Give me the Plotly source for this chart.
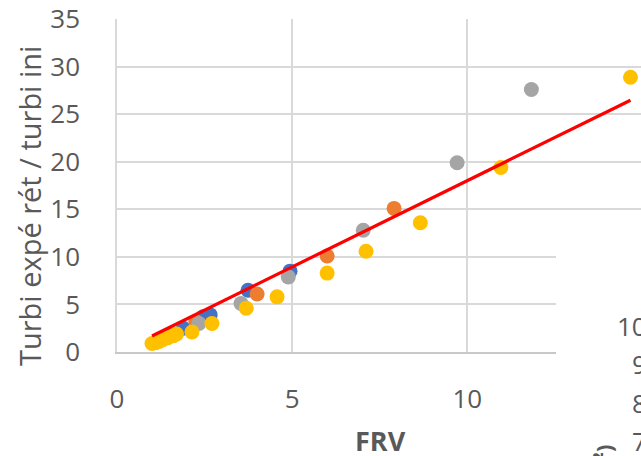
import plotly.graph_objects as go

W, H = 641, 456

# FRV (x) vs ratio of measured / initial turbidity (y), four sample series
blue_x = [1.2, 1.5, 1.89, 2.46, 2.66, 3.74, 4.94]
blue_y = [1.3, 1.8, 2.5, 3.7, 3.9, 6.5, 8.5]

orange_x = [2.25, 4.0, 6.0, 7.91]
orange_y = [3.2, 6.1, 10.1, 15.1]

gray_x = [1.1, 2.34, 3.54, 4.89, 7.03, 9.71, 11.83]
gray_y = [1.0, 3.0, 5.1, 7.9, 12.8, 19.9, 27.6]

yellow_x = [1.0, 1.1, 1.2, 1.3, 1.45, 1.6, 1.7, 2.14, 2.71, 3.69, 4.57, 6.0, 7.11, 8.66, 10.96, 14.66]
yellow_y = [0.9, 1.0, 1.1, 1.3, 1.5, 1.7, 1.9, 2.1, 3.0, 4.6, 5.8, 8.3, 10.6, 13.6, 19.4, 28.9]

# linear trend line y = a*x + b over the data's x span
trend_slope = 1.815
trend_intercept = -0.13
trend_x = [1.0, 14.66]

x_ticks = [0, 5, 10]
y_ticks = [0, 5, 10, 15, 20, 25, 30, 35]

# y-axis tick labels of the neighbouring chart
side_labels = ["10", "9", "8", "7"]
side_label_y = [326, 364, 403, 441]

GRID = "#D9D9D9"
TXT = "#595959"
FONT = "Open Sans"


def px(x):
    return x / W


def py(y):
    return 1 - y / H


fig = go.Figure()
for xs, ys, col in [(blue_x, blue_y, "#4472C4"), (orange_x, orange_y, "#ED7D31"),
                    (gray_x, gray_y, "#A5A5A5"), (yellow_x, yellow_y, "#FFC000")]:
    fig.add_trace(go.Scatter(x=xs, y=ys, mode="markers",
                             marker=dict(size=15, color=col, line=dict(width=0)),
                             showlegend=False))

fig.add_trace(go.Scatter(x=trend_x, y=[trend_slope * v + trend_intercept for v in trend_x],
                         mode="lines", line=dict(color="#FF0000", width=3.2),
                         showlegend=False))

fig.update_layout(
    width=W, height=H, margin=dict(l=0, r=0, t=0, b=0, autoexpand=False),
    paper_bgcolor="white", plot_bgcolor="white",
    xaxis=dict(domain=[px(117), 1], range=[0, 14.96], tickvals=x_ticks,
               showgrid=True, gridcolor=GRID, gridwidth=1.5,
               showline=True, linecolor="#C8C8C8", linewidth=1.5,
               zeroline=False, ticks="", ticklabelstandoff=23, automargin=False,
               tickfont=dict(family=FONT, size=26, color=TXT)),
    yaxis=dict(domain=[py(352), py(19)], range=[0, 35.02], tickvals=y_ticks,
               showgrid=True, gridcolor=GRID, gridwidth=1.5,
               showline=True, linecolor=GRID, linewidth=1.5,
               zeroline=False, ticks="", ticklabelstandoff=30, automargin=False,
               tickfont=dict(family=FONT, size=26, color=TXT)),
    shapes=[dict(type="rect", xref="paper", yref="paper",
                 x0=px(556), x1=1.02, y0=-0.02, y1=py(232),
                 fillcolor="white", line=dict(width=0), layer="above")],
)

ann = [
    dict(text="Turbi expé rét / turbi ini", x=px(30), y=py(206), xref="paper", yref="paper",
         textangle=-90, showarrow=False, xanchor="center", yanchor="middle",
         font=dict(family=FONT, size=29, color=TXT)),
    dict(text="<b>FRV</b>", x=px(380), y=py(440), xref="paper", yref="paper",
         showarrow=False, xanchor="center", yanchor="middle",
         font=dict(family=FONT, size=27, color=TXT)),
    dict(text="<b>(m²)</b>", x=px(602), y=py(443), xref="paper", yref="paper",
         textangle=-90, showarrow=False, xanchor="center", yanchor="top",
         font=dict(family=FONT, size=22, color=TXT)),
]
for lab, yy in zip(side_labels, side_label_y):
    ann.append(dict(text=lab, x=px(649), y=py(yy), xref="paper", yref="paper",
                    showarrow=False, xanchor="right", yanchor="middle",
                    font=dict(family=FONT, size=26, color=TXT)))
fig.update_layout(annotations=ann)

fig.write_html("out.html")
